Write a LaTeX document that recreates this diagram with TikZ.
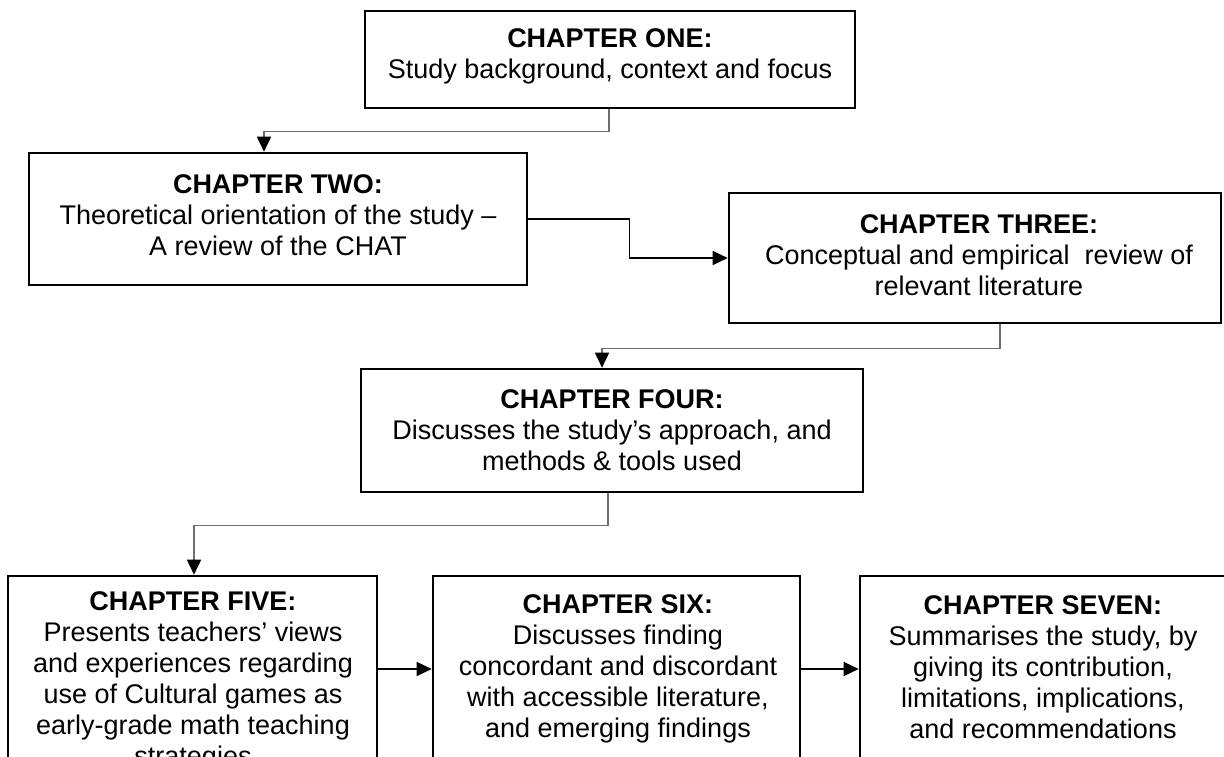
\documentclass[tikz,border=0pt]{standalone}
\usepackage{fontspec}
\setmainfont{Liberation Sans}
\usetikzlibrary{arrows.meta,calc}
\definecolor{conngray}{HTML}{6E6E6E}
\begin{document}
\begin{tikzpicture}[x=1pt,y=-1pt,
  box/.style={draw=black,line width=2.6pt,rectangle,inner sep=0pt},
  txt/.style={align=center,inner sep=0pt,font=\fontsize{27}{31}\selectfont},
  conn/.style={draw=conngray,line width=1.6pt,-{Triangle[length=15pt,width=14pt,color=black]}},
  connk/.style={draw=black,line width=1.4pt,-{Triangle[length=15pt,width=14pt]}}]
\useasboundingbox (0,0) rectangle (1224,756);

% boxes
\node[box,minimum width=490pt,minimum height=97pt] (b1) at (610,59.5) {};
\node[box,minimum width=498pt,minimum height=132pt] (b2) at (278,219) {};
\node[box,minimum width=492pt,minimum height=130pt] (b3) at (975,258) {};
\node[box,minimum width=502pt,minimum height=123pt] (b4) at (612,430.5) {};
\node[box,minimum width=369pt,minimum height=186pt] (b5) at (192.5,669) {};
\node[box,minimum width=367pt,minimum height=186pt] (b6) at (616.5,669) {};
\node[box,minimum width=366pt,minimum height=186pt] (b7) at (1043,669) {};

% texts
\node[txt] (t1) at (610,56.5) {\textbf{CHAPTER ONE:}\\Study background, context and focus};
\node[txt] (t2) at (278,215.5) {\textbf{CHAPTER TWO:}\\Theoretical orientation of the study –\\A review of the CHAT};
\node[txt] (t3) at (979,255) {\textbf{CHAPTER THREE:}\\Conceptual and empirical\ \ review of\\relevant literature};
\node[txt] (t4) at (612,430.5) {\textbf{CHAPTER FOUR:}\\Discusses the study’s approach, and\\methods \& tools used};
\node[txt] (t5) at (193,681.5) {\textbf{CHAPTER FIVE:}\\Presents teachers’ views\\and experiences regarding\\use of Cultural games as\\early-grade math teaching\\strategies};
\node[txt] (t6) at (618,669) {\textbf{CHAPTER SIX:}\\Discusses finding\\concordant and discordant\\with accessible literature,\\and emerging findings};
\node[txt] (t7) at (1043,667.5) {\textbf{CHAPTER SEVEN:}\\Summarises the study, by\\giving its contribution,\\limitations, implications,\\and recommendations};

% connectors
\draw[conn] ([xshift=-1pt]b1.south) -- ++(0,22) -| ([xshift=-14pt]b2.north);
\draw[connk] (b2.east) -- ++(101,0) |- (b3.west);
\draw[conn] ([xshift=25pt]b3.south) -- ++(0,24) -| ([xshift=-10pt]b4.north);
\draw[conn] ([xshift=-4pt]b4.south) -- ++(0,32) -| ([xshift=1.5pt]b5.north);
\draw[connk] (b5.east) -- (b6.west);
\draw[connk] (b6.east) -- (b7.west);
\end{tikzpicture}
\end{document}
